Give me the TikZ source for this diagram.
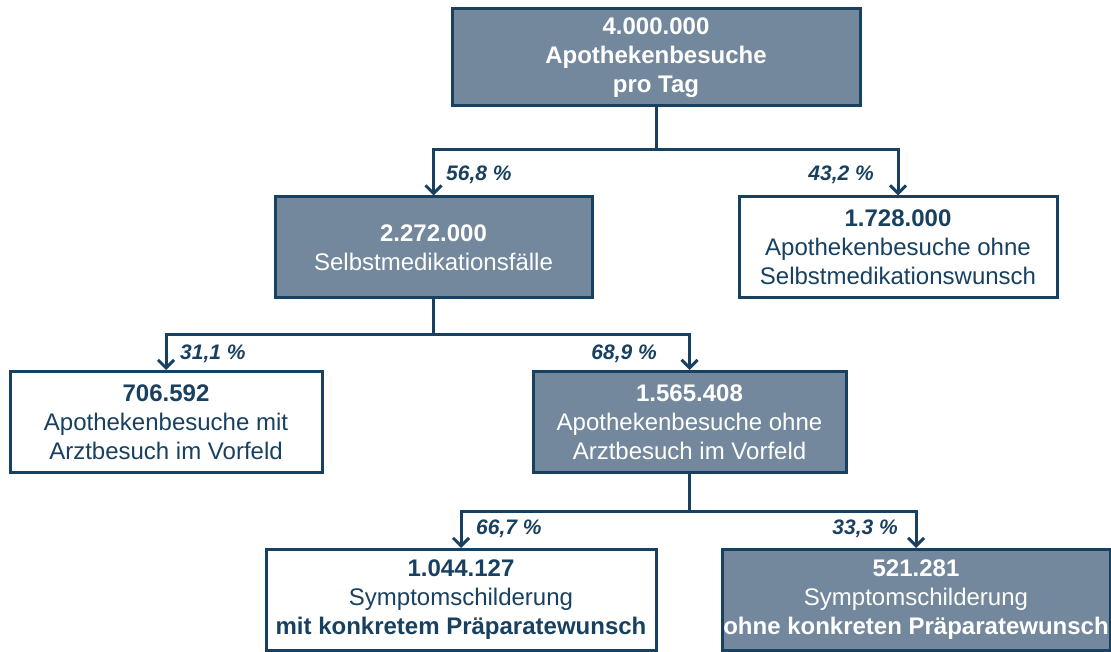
\documentclass[tikz,border=0pt]{standalone}
\usepackage{fontspec}
\setmainfont{Liberation Sans}
\usetikzlibrary{arrows.meta}
\definecolor{boxfill}{RGB}{115,136,156}
\definecolor{navy}{RGB}{24,64,96}

\begin{document}
\begin{tikzpicture}[x=1pt,y=-1pt]
\tikzstyle{every node}=[font=\fontsize{24}{29}\selectfont,align=center,inner sep=0pt];
\tikzstyle{darkbox}=[rectangle,draw=navy,line width=3pt,fill=boxfill,text=white,minimum height=101pt];
\tikzstyle{lightbox}=[rectangle,draw=navy,line width=3pt,fill=white,text=navy,minimum height=101pt];
\tikzstyle{share}=[font=\fontsize{21}{25}\selectfont\bfseries\itshape,text=navy];
\tikzstyle{link}=[draw=navy,line width=3pt];
\tikzstyle{split}=[link,-{Straight Barb[length=8pt,width=16pt]}];
\useasboundingbox (0,0) rectangle (1111,652);

% boxes
\node[darkbox,minimum width=408pt,minimum height=97pt] (besuche) at (656,57.5)
  {\textbf{4.000.000}\\\textbf{Apothekenbesuche}\\\textbf{pro Tag}};
\node[darkbox,minimum width=317pt] (selbst) at (433.5,247.5)
  {\textbf{2.272.000}\\Selbstmedikationsfälle};
\node[lightbox,minimum width=318pt] (ohnesm) at (898,247.5)
  {\textbf{1.728.000}\\Apothekenbesuche ohne\\Selbstmedikationswunsch};
\node[lightbox,minimum width=312pt] (mitarzt) at (166,422)
  {\textbf{706.592}\\Apothekenbesuche mit\\Arztbesuch im Vorfeld};
\node[darkbox,minimum width=313pt] (ohnearzt) at (689.5,422)
  {\textbf{1.565.408}\\Apothekenbesuche ohne\\Arztbesuch im Vorfeld};
\node[lightbox,minimum width=390pt] (mitwunsch) at (461,600)
  {\textbf{1.044.127}\\Symptomschilderung\\\textbf{mit konkretem Präparatewunsch}};
\node[darkbox,minimum width=388pt] (ohnewunsch) at (916,600)
  {\textbf{521.281}\\Symptomschilderung\\\textbf{ohne konkreten Präparatewunsch}};

% connectors
\coordinate (j1) at (656,150);
\coordinate (j2) at (433.5,334);
\coordinate (j3) at (689.5,511);
\draw[link] (besuche.south) -- (j1);
\draw[split] (j1) -| (selbst.north);
\draw[split] (j1) -| (ohnesm.north);
\draw[link] (selbst.south) -- (j2);
\draw[split] (j2) -| (mitarzt.north);
\draw[split] (j2) -| (ohnearzt.north);
\draw[link] (ohnearzt.south) -- (j3);
\draw[split] (j3) -| (mitwunsch.north);
\draw[split] (j3) -| (ohnewunsch.north);

% shares
\node[share,anchor=west] (p568) at (446,175) {56,8 \%};
\node[share,anchor=east] (p432) at (874,175) {43,2 \%};
\node[share,anchor=west] (p311) at (180,354) {31,1 \%};
\node[share,anchor=east] (p689) at (657,354) {68,9 \%};
\node[share,anchor=west] (p667) at (476,529) {66,7 \%};
\node[share,anchor=east] (p333) at (898,529) {33,3 \%};
\end{tikzpicture}
\end{document}
